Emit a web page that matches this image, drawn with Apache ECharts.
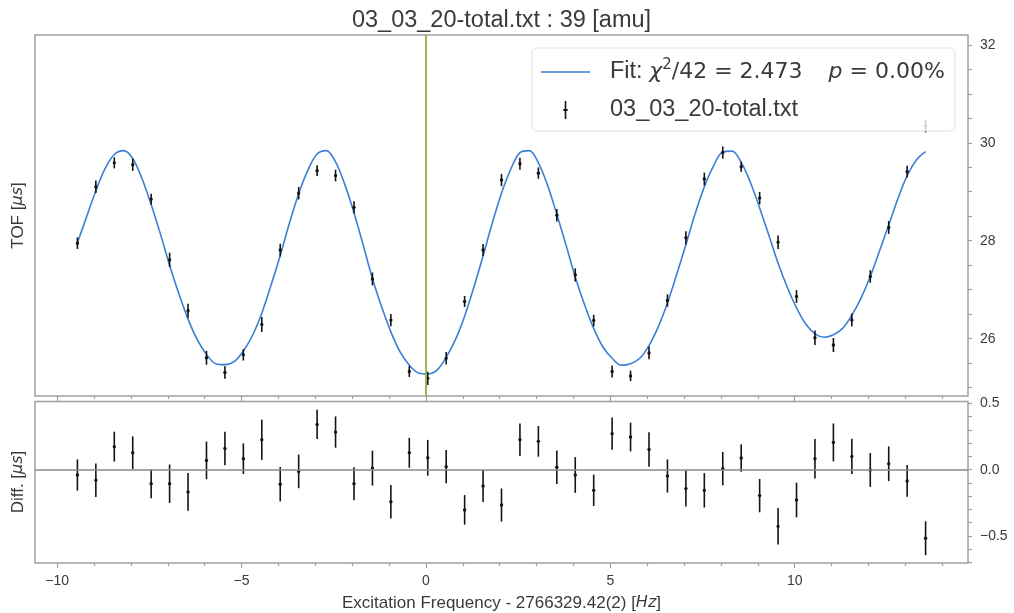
<!DOCTYPE html>
<html>
<head>
<meta charset="utf-8">
<script src="https://cdn.jsdelivr.net/npm/echarts@6/dist/echarts.min.js"></script>
<style>
html,body{margin:0;padding:0;background:#fff;}
#chart{width:1014px;height:613px;}
</style>
</head>
<body>
<div id="chart"></div>
<script>
// ---------- data ----------
const titleText = '03_03_20-total.txt : 39 [amu]';
const dataName = '03_03_20-total.txt';

const dataX = [-9.45, -8.95, -8.45, -7.95, -7.45, -6.95, -6.45, -5.95, -5.45, -4.95,
               -4.45, -3.95, -3.45, -2.95, -2.45, -1.95, -1.45, -0.95, -0.45, 0.05,
               0.55, 1.05, 1.55, 2.05, 2.55, 3.05, 3.55, 4.05, 4.55, 5.05,
               5.55, 6.05, 6.55, 7.05, 7.55, 8.05, 8.55, 9.05, 9.55, 10.05,
               10.55, 11.05, 11.55, 12.05, 12.55, 13.05, 13.55];

const tof = [27.95, 29.10, 29.59, 29.55, 28.85, 27.61, 26.57, 25.61, 25.31, 25.67,
             26.29, 27.81, 28.97, 29.43, 29.33, 28.68, 27.22, 26.38, 25.33, 25.19,
             25.60, 26.76, 27.81, 29.24, 29.57, 29.38, 28.52, 27.30, 26.37, 25.33,
             25.24, 25.71, 26.78, 28.06, 29.26, 29.80, 29.51, 28.87, 27.97, 26.86,
             26.02, 25.87, 26.38, 27.27, 28.27, 29.41, 30.34];

const tofErr = [0.118, 0.127, 0.113, 0.123, 0.110, 0.145, 0.143, 0.142, 0.127, 0.116,
                0.152, 0.130, 0.127, 0.110, 0.118, 0.125, 0.132, 0.126, 0.113, 0.135,
                0.126, 0.112, 0.122, 0.125, 0.123, 0.116, 0.126, 0.135, 0.118, 0.122,
                0.108, 0.130, 0.125, 0.136, 0.130, 0.126, 0.104, 0.126, 0.138, 0.131,
                0.149, 0.143, 0.133, 0.128, 0.131, 0.120, 0.128];

const diff = [-0.040, -0.080, 0.174, 0.128, -0.106, -0.106, -0.168, 0.070, 0.160, 0.083,
              0.226, -0.110, -0.013, 0.342, 0.284, -0.106, 0.012, -0.242, 0.128, 0.090,
              0.023, -0.304, -0.123, -0.267, 0.226, 0.214, 0.018, -0.040, -0.156, 0.272,
              0.247, 0.153, -0.048, -0.143, -0.156, 0.008, 0.088, -0.196, -0.428, -0.229,
              0.083, 0.206, 0.100, -0.002, 0.045, -0.085, -0.518];

const fitX = [-9.45, -9.2, -8.95, -8.7, -8.45, -8.2, -7.95, -7.7, -7.45, -7.2,
              -6.95, -6.7, -6.45, -6.2, -5.95, -5.7, -5.45, -5.2, -4.95, -4.7,
              -4.45, -4.2, -3.95, -3.7, -3.45, -3.2, -2.95, -2.7, -2.45, -2.2,
              -1.95, -1.7, -1.45, -1.2, -0.95, -0.7, -0.45, -0.2, 0.05, 0.3,
              0.55, 0.8, 1.05, 1.3, 1.55, 1.8, 2.05, 2.3, 2.55, 2.8,
              3.05, 3.3, 3.55, 3.8, 4.05, 4.3, 4.55, 4.8, 5.05, 5.3,
              5.55, 5.8, 6.05, 6.3, 6.55, 6.8, 7.05, 7.3, 7.55, 7.8,
              8.05, 8.3, 8.55, 8.8, 9.05, 9.3, 9.55, 9.8, 10.05, 10.3,
              10.55, 10.8, 11.05, 11.3, 11.55, 11.8, 12.05, 12.3, 12.55, 12.8,
              13.05, 13.3, 13.55];

const fitY = [27.96, 28.49, 29.02, 29.47, 29.76, 29.84, 29.68, 29.27, 28.74, 28.14,
              27.50, 26.92, 26.40, 25.98, 25.68, 25.49, 25.47, 25.53, 25.75, 26.07,
              26.52, 27.09, 27.70, 28.36, 28.96, 29.44, 29.77, 29.84, 29.61, 29.15,
              28.57, 27.91, 27.23, 26.65, 26.14, 25.73, 25.46, 25.30, 25.28, 25.36,
              25.62, 25.98, 26.46, 27.05, 27.69, 28.36, 28.97, 29.46, 29.80, 29.84,
              29.59, 29.13, 28.54, 27.91, 27.26, 26.70, 26.21, 25.83, 25.60, 25.46,
              25.49, 25.60, 25.86, 26.24, 26.73, 27.31, 27.92, 28.55, 29.10, 29.53,
              29.81, 29.83, 29.60, 29.19, 28.67, 28.11, 27.54, 27.05, 26.63, 26.30,
              26.10, 26.03, 26.08, 26.21, 26.48, 26.83, 27.27, 27.79, 28.32, 28.86,
              29.33, 29.65, 29.82];

// tick positions / labels
const xMajorTicks = [-10, -5, 0, 5, 10];
const xMinorTicks = [-9, -8, -7, -6, -4, -3, -2, -1, 1, 2, 3, 4, 6, 7, 8, 9, 11, 12, 13, 14];
const tofTicks = [25, 25.5, 26, 26.5, 27, 27.5, 28, 28.5, 29, 29.5, 30, 30.5, 31, 31.5, 32];
const tofLabels = [26, 28, 30, 32];
const diffTicks = [-0.7, -0.6, -0.5, -0.4, -0.3, -0.2, -0.1, 0, 0.1, 0.2, 0.3, 0.4, 0.5];
const diffLabels = [-0.5, 0, 0.5];

// ---------- styling ----------
const FONT = '"Liberation Sans", Arial, Helvetica, sans-serif';
const MATH = '"DejaVu Sans", sans-serif';
const TXT = '#3a3a3a';
const FRAME = '#9ca1a8';
const BLUE = '#3d7fd6';
const GREEN = '#8db43e';
const ERRC = '#141414';

const X_MIN = -10.6, X_MAX = 14.7;

function minusFmt(s) { return String(s).replace('-', '\u2212'); }

function errRender(params, api) {
  const x = api.value(0), y = api.value(1), e = api.value(2);
  const top = api.coord([x, y + e]);
  const bot = api.coord([x, y - e]);
  const c = api.coord([x, y]);
  return {
    type: 'group',
    children: [
      { type: 'line', shape: { x1: top[0], y1: top[1], x2: bot[0], y2: bot[1] },
        style: { stroke: ERRC, lineWidth: 1.6 } },
      { type: 'circle', shape: { cx: c[0], cy: c[1], r: 1.7 }, style: { fill: ERRC } }
    ]
  };
}

function xAxisDef(gridIndex, ticks, len, withLabels) {
  return {
    gridIndex: gridIndex, type: 'value', position: 'bottom',
    min: X_MIN, max: X_MAX,
    axisLine: { show: false, onZero: false },
    splitLine: { show: false },
    axisTick: { show: true, customValues: ticks, length: len, lineStyle: { color: FRAME, width: 1.2 } },
    axisLabel: withLabels ? {
      show: true, customValues: xMajorTicks, margin: 11,
      fontFamily: FONT, fontSize: 14, color: TXT,
      formatter: function (v) { return minusFmt(v); }
    } : { show: false }
  };
}

const chart = echarts.init(document.getElementById('chart'), null, { renderer: 'canvas' });

const option = {
  animation: false,
  backgroundColor: '#ffffff',
  grid: [
    { left: 35, right: 46, top: 35, height: 361, show: true, borderColor: FRAME, borderWidth: 1.5, backgroundColor: '#fff' },
    { left: 35, right: 46, top: 401.5, height: 161.5, show: true, borderColor: FRAME, borderWidth: 1.5, backgroundColor: '#fff' }
  ],
  xAxis: [
    xAxisDef(0, xMajorTicks, 5, false),
    xAxisDef(0, xMinorTicks, 3, false),
    xAxisDef(1, xMajorTicks, 5, true),
    xAxisDef(1, xMinorTicks, 3, false)
  ],
  yAxis: [
    {
      gridIndex: 0, type: 'value', position: 'right', min: 24.83, max: 32.2,
      axisLine: { show: false, onZero: false }, splitLine: { show: false },
      axisTick: { show: true, customValues: tofTicks, length: 4, lineStyle: { color: FRAME, width: 1.2 } },
      axisLabel: { show: true, customValues: tofLabels, margin: 12, fontFamily: FONT, fontSize: 14, color: TXT,
                   formatter: function (v) { return String(v); } }
    },
    {
      gridIndex: 1, type: 'value', position: 'right', min: -0.705, max: 0.515,
      axisLine: { show: false, onZero: false }, splitLine: { show: false },
      axisTick: { show: true, customValues: diffTicks, length: 4, lineStyle: { color: FRAME, width: 1.2 } },
      axisLabel: { show: true, customValues: diffLabels, margin: 12, fontFamily: FONT, fontSize: 14, color: TXT,
                   formatter: function (v) { return minusFmt(Number(v).toFixed(1)); } }
    }
  ],
  legend: {
    data: [
      { name: 'Fit', icon: 'path://M0,0h49v1.6h-49z', itemStyle: { color: BLUE } },
      { name: dataName, icon: 'path://M1.25,0h1.5v7.5h1.25v2h-1.25v7.5h-1.5v-7.5h-1.25v-2h1.25z' }
    ],
    orient: 'vertical',
    left: 532, top: 48,
    itemWidth: 49, itemHeight: 18, itemGap: 10,
    symbolKeepAspect: true,
    padding: [10, 10, 7, 9],
    backgroundColor: 'rgba(255,255,255,0.8)',
    borderColor: '#e2e2e2', borderWidth: 1, borderRadius: 5,
    selectedMode: false,
    z: 10,
    textStyle: {
      fontFamily: FONT, fontSize: 23.5, color: TXT, lineHeight: 28,
      rich: {
        g: { width: 15 },
        n: { fontFamily: FONT, fontSize: 23.5, color: TXT },
        m: { fontFamily: MATH, fontStyle: 'italic', fontSize: 22, color: TXT },
        k: { fontFamily: MATH, fontSize: 22, color: TXT },
        s: { fontFamily: MATH, fontSize: 15, color: TXT, padding: [0, 0, 13, 0] },
        w: { width: 26 }
      }
    },
    formatter: function (name) {
      if (name === 'Fit') {
        return '{g| }{n|Fit: }{m|\u03c7}{s|2}{k|/42 = 2.473}{w| }{m|p}{k| = 0.00%}';
      }
      return '{g| }{n|' + name + '}';
    }
  },
  graphic: [
    { type: 'text', x: 501.5, y: 21, z: 20,
      style: { text: titleText, fontFamily: FONT, fontSize: 23.5, fill: TXT, align: 'center', verticalAlign: 'middle' } },
    { type: 'text', x: 18, y: 215.5, rotation: Math.PI / 2, z: 20,
      style: { text: '{a|TOF [}{b|\u03bcs}{a|]}', align: 'center', verticalAlign: 'middle',
               rich: { a: { fontFamily: FONT, fontSize: 17, fill: TXT, color: TXT },
                       b: { fontFamily: MATH, fontStyle: 'italic', fontSize: 16, fill: TXT, color: TXT } } } },
    { type: 'text', x: 18, y: 482, rotation: Math.PI / 2, z: 20,
      style: { text: '{a|Diff. [}{b|\u03bcs}{a|]}', align: 'center', verticalAlign: 'middle',
               rich: { a: { fontFamily: FONT, fontSize: 17, fill: TXT, color: TXT },
                       b: { fontFamily: MATH, fontStyle: 'italic', fontSize: 16, fill: TXT, color: TXT } } } },
    { type: 'text', x: 501.5, y: 603, z: 20,
      style: { text: '{a|Excitation Frequency - 2766329.42(2) [}{b|Hz}{a|]}', align: 'center', verticalAlign: 'middle',
               rich: { a: { fontFamily: FONT, fontSize: 17, fill: TXT, color: TXT },
                       b: { fontFamily: MATH, fontStyle: 'italic', fontSize: 16, fill: TXT, color: TXT } } } }
  ],
  series: [
    {
      name: 'Fit', type: 'line', xAxisIndex: 0, yAxisIndex: 0,
      data: fitX.map(function (x, i) { return [x, fitY[i]]; }),
      symbol: 'none', showSymbol: false, smooth: 0.35,
      lineStyle: { color: BLUE, width: 1.6 }, itemStyle: { color: BLUE },
      z: 2,
      markLine: {
        silent: true, symbol: ['none', 'none'], label: { show: false },
        lineStyle: { color: GREEN, width: 1.8, type: 'solid' },
        data: [{ xAxis: 0 }]
      }
    },
    {
      name: dataName, type: 'custom', xAxisIndex: 0, yAxisIndex: 0,
      data: dataX.map(function (x, i) { return [x, tof[i], tofErr[i]]; }),
      encode: { x: 0, y: 1 },
      renderItem: errRender,
      itemStyle: { color: ERRC },
      z: 3
    },
    {
      name: 'Diff.', type: 'custom', xAxisIndex: 2, yAxisIndex: 1,
      data: dataX.map(function (x, i) { return [x, diff[i], tofErr[i]]; }),
      encode: { x: 0, y: 1 },
      renderItem: errRender,
      itemStyle: { color: ERRC },
      z: 3,
      markLine: {
        silent: true, symbol: ['none', 'none'], label: { show: false },
        lineStyle: { color: '#8a8a8a', width: 1.6, type: 'solid' },
        data: [{ yAxis: 0 }]
      }
    }
  ]
};

chart.setOption(option);
</script>
</body>
</html>
